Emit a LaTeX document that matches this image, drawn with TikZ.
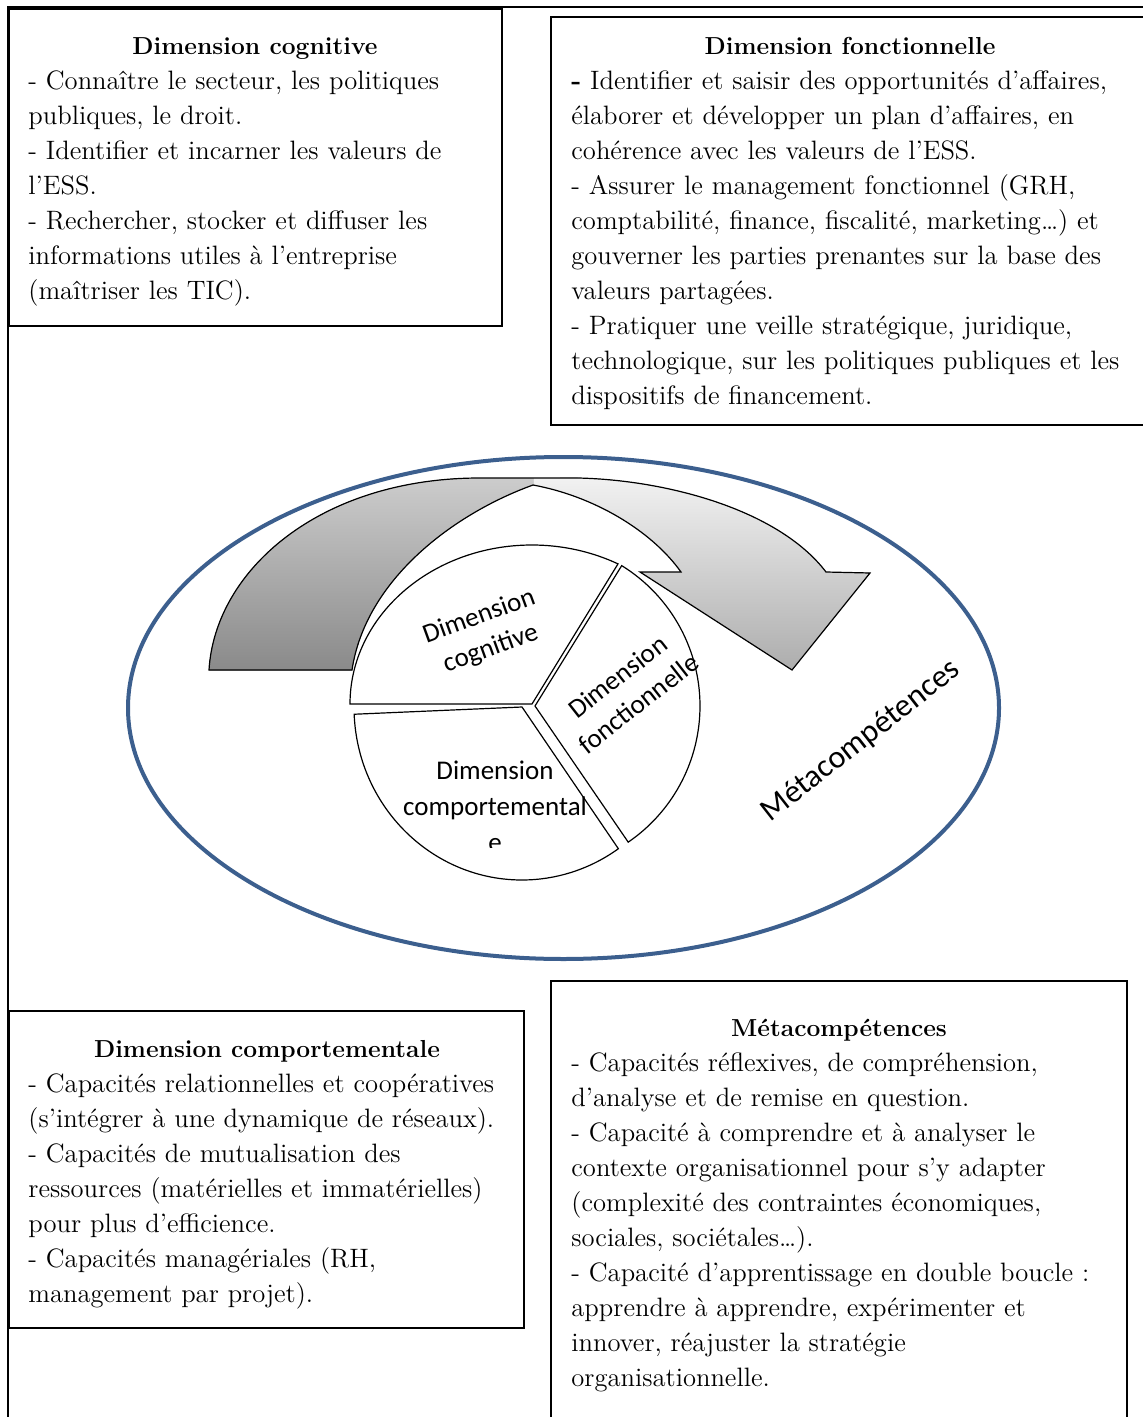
\documentclass[tikz,border=0pt]{standalone}
\usepackage{fontspec}
\newfontfamily\labelfont{Carlito}
\definecolor{ringblue}{HTML}{3C5F8E}
\definecolor{lighttop}{HTML}{F2F2F2}
\definecolor{lightbot}{HTML}{ADADAD}
\definecolor{darktop}{HTML}{CCCCCC}
\definecolor{darkbot}{HTML}{8A8A8A}
\begin{document}
\begin{tikzpicture}[x=0.5pt,y=-0.5pt,
  panel/.style={draw=black, line width=0.8pt},
  bodytext/.style={anchor=base west, align=left, text width=320pt, inner sep=0pt,
    font=\fontsize{13.3}{17.5}\selectfont},
  headtext/.style={anchor=base, inner sep=0pt, font=\fontsize{12.3}{17.5}\selectfont\bfseries},
  slice/.style={draw=black, line width=0.6pt, fill=white},
  slicelabel/.style={font=\labelfont\fontsize{13.5}{17}\selectfont, align=center, inner sep=0pt},
]
\useasboundingbox (0,0) rectangle (1143,1417);

% outer frame
\draw[line width=1pt] (8,1417) -- (8,7) -- (1143,7);

% text panels
\draw[panel] (9,9) rectangle (502,326);
\draw[panel] (551,17) rectangle (1150,425);
\draw[panel] (9,1011) rectangle (524,1328);
\draw[panel] (551,981) rectangle (1127,1430);

\node[headtext] (coghead) at (255,55) {Dimension cognitive};
\node[bodytext] (cogbody) at (28,90) {- Connaître le secteur, les politiques\\
publiques, le droit.\\
- Identifier et incarner les valeurs de\\
l’ESS.\\
- Rechercher, stocker et diffuser les\\
informations utiles à l’entreprise\\
(maîtriser les TIC).};

\node[headtext] (fonchead) at (850,55) {Dimension fonctionnelle};
\node[bodytext] (foncbody) at (571,90) {\textbf{-} Identifier et saisir des opportunités d’affaires,\\
élaborer et développer un plan d’affaires, en\\
cohérence avec les valeurs de l’ESS.\\
- Assurer le management fonctionnel (GRH,\\
comptabilité, finance, fiscalité, marketing…) et\\
gouverner les parties prenantes sur la base des\\
valeurs partagées.\\
- Pratiquer une veille stratégique, juridique,\\
technologique, sur les politiques publiques et les\\
dispositifs de financement.};

\node[headtext] (comphead) at (267,1057) {Dimension comportementale};
\node[bodytext] (compbody) at (28,1092) {- Capacités relationnelles et coopératives\\
(s’intégrer à une dynamique de réseaux).\\
- Capacités de mutualisation des\\
ressources (matérielles et immatérielles)\\
pour plus d’efficience.\\
- Capacités managériales (RH,\\
management par projet).};

\node[headtext] (metahead) at (839,1036) {Métacompétences};
\node[bodytext] (metabody) at (571,1071) {- Capacités réflexives, de compréhension,\\
d’analyse et de remise en question.\\
- Capacité à comprendre et à analyser le\\
contexte organisationnel pour s’y adapter\\
(complexité des contraintes économiques,\\
sociales, sociétales…).\\
- Capacité d’apprentissage en double boucle :\\
apprendre à apprendre, expérimenter et\\
innover, réajuster la stratégie\\
organisationnelle.};

% metacompetence ring
\draw[ringblue, line width=2pt] (563.5,708) ellipse [x radius=435.5, y radius=251];

% curved arrow: light front band
\fill[top color=lighttop, bottom color=lightbot]
  (209,670) .. controls (215,570) and (320,478) .. (480,478)
  -- (560,478) .. controls (650,476) and (775,505) .. (826,572)
  -- (870,573) -- (792,670) -- (640,572) -- (681,572)
  .. controls (651,530) and (593,496) .. (533,485)
  .. controls (453,514) and (365.5,580) .. (352,670) -- cycle;
% darker back band
\fill[top color=darktop, bottom color=darkbot]
  (209,670) .. controls (215,570) and (320,478) .. (480,478)
  -- (533,478) -- (533,485)
  .. controls (453,514) and (365.5,580) .. (352,670) -- cycle;
% arrow outline
\draw[line width=0.6pt, line join=miter]
  (209,670) .. controls (215,570) and (320,478) .. (480,478)
  -- (560,478) .. controls (650,476) and (775,505) .. (826,572)
  -- (870,573) -- (792,670) -- (640,572) -- (681,572)
  .. controls (651,530) and (593,496) .. (533,485)
  .. controls (453,514) and (365.5,580) .. (352,670) -- cycle;

% exploded pie
\draw[slice] (532,704) -- ++(-182,0)
  arc[start angle=180, end angle=298.2, x radius=182, y radius=159] -- cycle;
\draw[slice] (535,706) -- ++(-58.3:165)
  arc[start angle=-58.3, end angle=55.6, radius=165] -- cycle;
\draw[slice] (522,707) -- ++(177.6:168 and 173)
  arc[start angle=177.6, end angle=55, x radius=168, y radius=173] -- cycle;

\node[slicelabel, rotate=20] (coglabel) at (485,633) {Dimension\\cognitive};
\node[slicelabel, rotate=38] (fonclabel) at (628,690) {Dimension\\fonctionnelle};
\begin{scope}
  \clip (380,740) rectangle (640,847);
  \node[slicelabel, anchor=base, text width=100pt, font=\labelfont\fontsize{13.5}{18}\selectfont] (complabel) at (495,779) {Dimension\\comportemental\\e};
\end{scope}
\node[font=\labelfont\fontsize{16}{19}\selectfont, rotate=38, inner sep=0pt] (metalabel) at (861,741) {Métacompétences};
\end{tikzpicture}
\end{document}
